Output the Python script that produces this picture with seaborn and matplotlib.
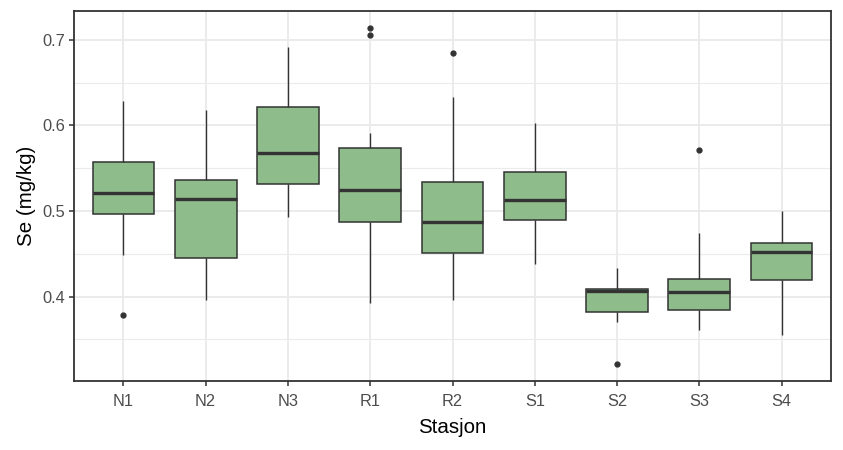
import matplotlib
matplotlib.use("Agg")
import matplotlib.pyplot as plt
import seaborn as sns
import pandas as pd
from matplotlib.ticker import FixedLocator

stations = ["N1", "N2", "N3", "R1", "R2", "S1", "S2", "S3", "S4"]

se_N1 = [0.379, 0.449, 0.478, 0.496, 0.505, 0.514, 0.521, 0.532, 0.545, 0.557, 0.574, 0.598, 0.629]
se_N2 = [0.396, 0.412, 0.430, 0.445, 0.468, 0.495, 0.514, 0.521, 0.529, 0.536, 0.560, 0.585, 0.618]
se_N3 = [0.493, 0.508, 0.521, 0.532, 0.545, 0.557, 0.568, 0.583, 0.602, 0.621, 0.641, 0.664, 0.691]
se_R1 = [0.393, 0.430, 0.462, 0.487, 0.500, 0.512, 0.525, 0.540, 0.558, 0.574, 0.591, 0.706, 0.714]
se_R2 = [0.396, 0.420, 0.438, 0.451, 0.464, 0.476, 0.487, 0.503, 0.519, 0.534, 0.568, 0.633, 0.685]
se_S1 = [0.438, 0.462, 0.478, 0.490, 0.497, 0.505, 0.513, 0.522, 0.534, 0.546, 0.562, 0.580, 0.603]
se_S2 = [0.321, 0.370, 0.376, 0.382, 0.392, 0.401, 0.407, 0.408, 0.409, 0.409, 0.418, 0.426, 0.434]
se_S3 = [0.361, 0.370, 0.378, 0.384, 0.392, 0.399, 0.405, 0.410, 0.416, 0.421, 0.437, 0.474, 0.571]
se_S4 = [0.355, 0.380, 0.402, 0.419, 0.432, 0.444, 0.452, 0.456, 0.460, 0.463, 0.475, 0.488, 0.500]

y_ticks = [0.4, 0.5, 0.6, 0.7]
y_tick_labels = ["0.4", "0.5", "0.6", "0.7"]
y_minor = [0.35, 0.45, 0.55, 0.65]

series = [se_N1, se_N2, se_N3, se_R1, se_R2, se_S1, se_S2, se_S3, se_S4]
rows = []
for st, vals in zip(stations, series):
    for v in vals:
        rows.append({"Stasjon": st, "Se": v})
df = pd.DataFrame(rows)

sns.set_style("white")
plt.rcParams["font.family"] = ["Liberation Sans", "DejaVu Sans"]

fig = plt.figure(figsize=(8.43, 4.5), dpi=100)
ax = fig.add_axes([74 / 843, (450 - 381) / 450, (831 - 74) / 843, (381 - 11) / 450])

sns.boxplot(data=df, x="Stasjon", y="Se", order=stations, color="#8FBC8B",
            saturation=1, width=0.75, linecolor="#333333", linewidth=1.0,
            fliersize=3.5, showcaps=False,
            flierprops=dict(marker="o", markerfacecolor="#333333",
                            markeredgecolor="#333333"),
            medianprops=dict(linewidth=2.4, color="#333333"),
            boxprops=dict(linewidth=1.1),
            ax=ax, zorder=3)

ax.set_xlim(-0.6, 8.6)
ax.set_ylim(0.3015, 0.7335)
ax.yaxis.set_major_locator(FixedLocator(y_ticks))
ax.yaxis.set_minor_locator(FixedLocator(y_minor))
ax.set_yticklabels(y_tick_labels)

ax.grid(True, which="major", color="#EBEBEB", linewidth=1.4, zorder=0)
ax.grid(True, which="minor", axis="y", color="#EBEBEB", linewidth=0.8, zorder=0)
ax.set_axisbelow(True)

for s in ax.spines.values():
    s.set_visible(True)
    s.set_color("#333333")
    s.set_linewidth(1.3)

ax.tick_params(axis="both", which="major", direction="out", length=3.6, width=1.1,
               color="#333333", labelcolor="#4D4D4D", labelsize=11.8, pad=2.5,
               bottom=True, left=True)
ax.tick_params(axis="x", which="major", pad=6)
ax.tick_params(axis="both", which="minor", length=0)

ax.set_xlabel("Stasjon", fontsize=14.8, color="black", labelpad=6.5)
ax.set_ylabel("Se (mg/kg)", fontsize=14.8, color="black", labelpad=5)

fig.savefig("out.png", dpi=100, facecolor="white")
